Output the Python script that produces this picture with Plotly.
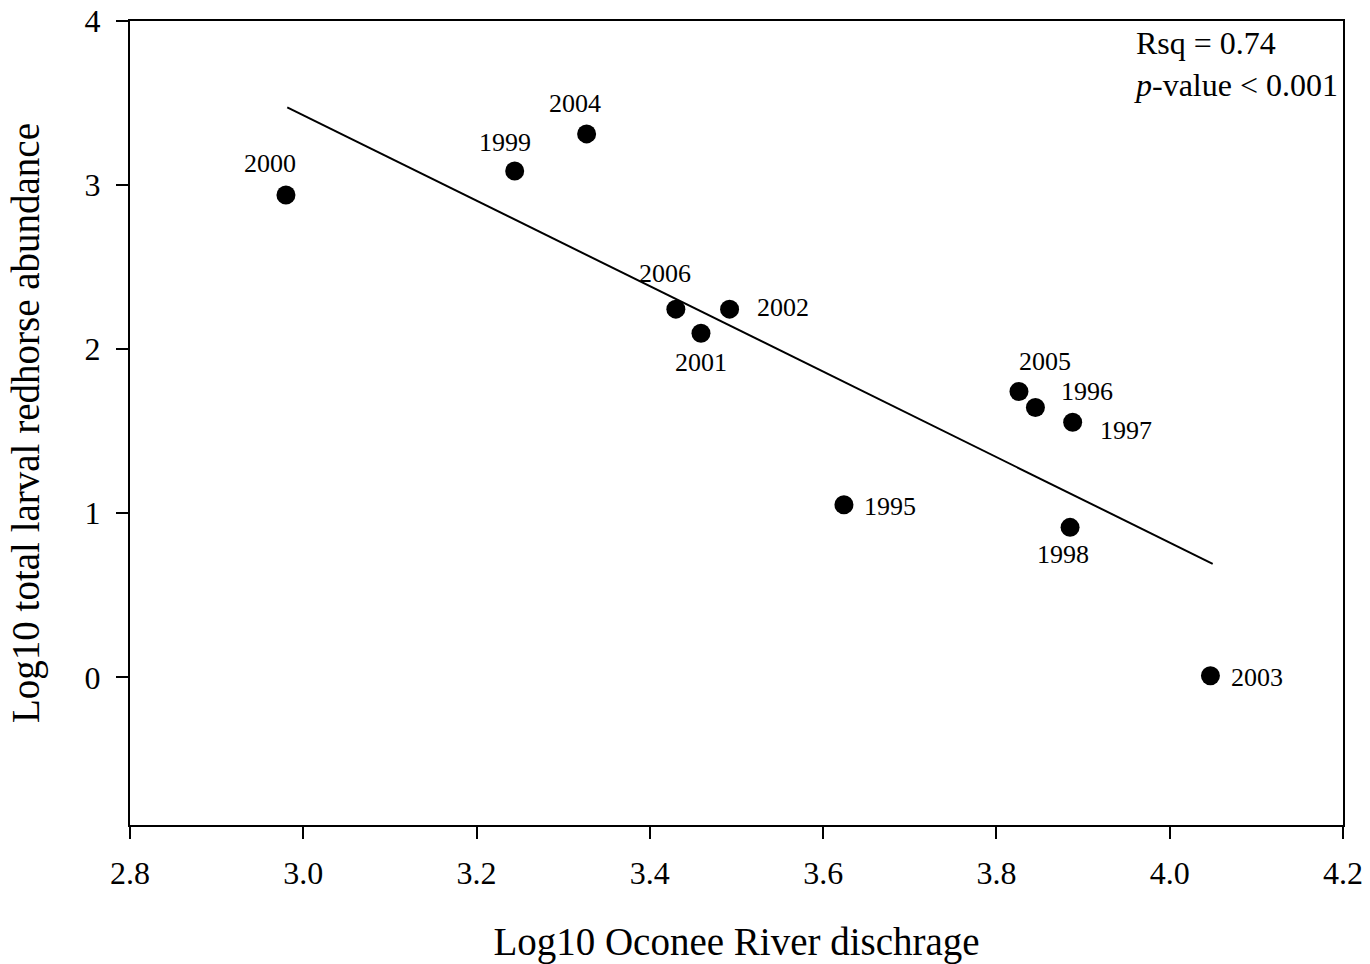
import plotly.graph_objects as go

years = ["2000", "1999", "2004", "2006", "2001", "2002", "2005", "1996", "1997", "1995", "1998", "2003"]
discharge = [2.980, 3.244, 3.327, 3.430, 3.459, 3.492, 3.826, 3.845, 3.888, 3.624, 3.885, 4.047]
abundance = [2.940, 3.086, 3.312, 2.244, 2.097, 2.244, 1.742, 1.644, 1.555, 1.052, 0.914, 0.010]

fit_x = [2.9815, 4.0496]
fit_y = [3.474, 0.692]

x_ticks = [2.8, 3.0, 3.2, 3.4, 3.6, 3.8, 4.0, 4.2]
y_ticks = [0, 1, 2, 3, 4]

# label placement (pixel offsets from each point, anchor)
label_pos = {
    "2000": (-16, 31, "center"),
    "1999": (-10, 28, "center"),
    "2004": (-12, 30, "center"),
    "2006": (-11, 36, "center"),
    "2001": (0, -29, "center"),
    "2002": (25, 2, "left"),
    "2005": (26, 30, "center"),
    "1996": (24, 16, "left"),
    "1997": (25, -8, "left"),
    "1995": (18, -2, "left"),
    "1998": (-7, -27, "center"),
    "2003": (19, -2, "left"),
}

FONT = "Liberation Serif, Times New Roman, serif"

fig = go.Figure()
fig.add_trace(go.Scatter(x=fit_x, y=fit_y, mode="lines",
                         line=dict(color="black", width=2), showlegend=False, hoverinfo="skip"))
fig.add_trace(go.Scatter(x=discharge, y=abundance, mode="markers",
                         marker=dict(color="black", size=19), showlegend=False,
                         text=years))

for yr, xv, yv in zip(years, discharge, abundance):
    dx, dy, anc = label_pos[yr]
    fig.add_annotation(x=xv, y=yv, text=yr, showarrow=False, xanchor=anc, yanchor="middle",
                       xshift=dx, yshift=dy, font=dict(family=FONT, size=26, color="black"))

fig.add_annotation(xref="paper", yref="paper", x=1, y=1, xanchor="right", yanchor="top",
                   xshift=-3, yshift=-2, align="left", showarrow=False,
                   text="Rsq = 0.74<br><i>p</i>-value < 0.001",
                   font=dict(family=FONT, size=32, color="black"))

axis_common = dict(showgrid=False, zeroline=False, showline=True, linecolor="black", linewidth=2,
                   mirror=True, ticks="outside", ticklen=12, tickwidth=2, tickcolor="black",
                   automargin=False,
                   tickfont=dict(family=FONT, size=32, color="black"))

fig.update_xaxes(range=[2.8, 4.2], tickvals=x_ticks, ticktext=[f"{v:.1f}" for v in x_ticks],
                 ticklabelstandoff=7,
                 title=dict(text="Log10 Oconee River dischrage", standoff=44,
                            font=dict(family=FONT, size=39, color="black")),
                 **axis_common)
fig.update_yaxes(range=[-0.9, 4], tickvals=y_ticks, ticklabelstandoff=9,
                 title=dict(text="Log10 total larval redhorse abundance", standoff=33,
                            font=dict(family=FONT, size=39, color="black")),
                 **axis_common)

fig.update_layout(width=1370, height=964, margin=dict(l=130, r=27, t=21, b=139),
                  plot_bgcolor="white", paper_bgcolor="white")

fig.write_html("out.html")
